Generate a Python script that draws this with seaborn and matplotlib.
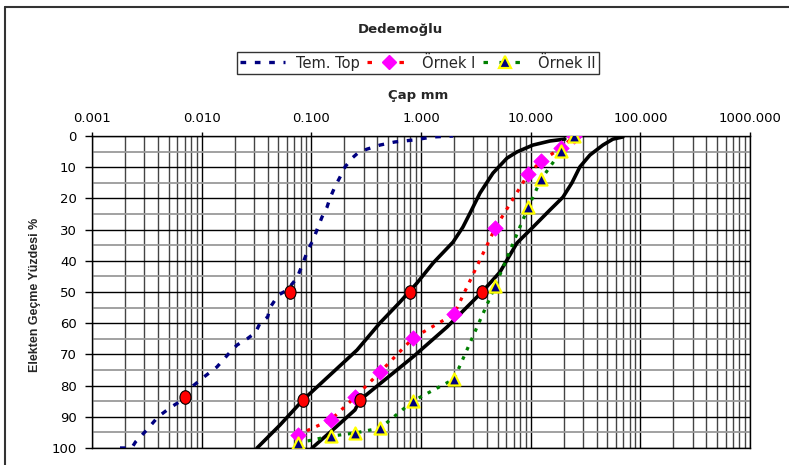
import numpy as np
import pandas as pd
import matplotlib
matplotlib.use("Agg")
import matplotlib.pyplot as plt
import seaborn as sns
from matplotlib.lines import Line2D
from matplotlib.path import Path
from matplotlib.transforms import Affine2D
from matplotlib.ticker import FixedLocator, FixedFormatter

# ---------------- data ----------------
tem_d = [0.0018, 0.0023, 0.0025, 0.0032, 0.0040, 0.0052, 0.0071, 0.0084, 0.0107,
         0.0138, 0.0174, 0.021, 0.026, 0.031, 0.034, 0.040, 0.042, 0.050, 0.060,
         0.074, 0.084, 0.093, 0.104, 0.115, 0.125, 0.139, 0.148, 0.164, 0.183,
         0.203, 0.235, 0.267, 0.322, 0.423, 0.579, 0.845, 1.29, 1.96]
tem_p = [100, 100, 98, 94, 90, 87, 84, 80, 77, 74, 70, 67, 65, 63, 60, 58, 55,
         51, 49.4, 45.5, 40.7, 36.5, 33.3, 29.2, 26, 22.8, 19.9, 16.3, 13.1,
         9.9, 7.1, 5.4, 4.2, 2.9, 1.9, 1.3, 0.3, 0]

sieve_d = [0.075, 0.15, 0.25, 0.425, 0.85, 2.0, 4.75, 9.5, 12.5, 19.0, 25.0]
ornek1_p = [95.8, 91.0, 83.7, 75.6, 64.7, 57.1, 29.5, 12.2, 8.0, 3.8, 0]
ornek2_p = [98.4, 96.2, 95.2, 93.6, 84.9, 77.9, 48.1, 22.8, 13.8, 4.8, 0]

envA_d = [0.0320, 0.0519, 0.0840, 0.148, 0.261, 0.423, 0.644, 0.920, 1.29, 1.96,
          2.41, 2.80, 3.45, 4.53, 6.08, 7.50, 10.5, 15.0, 20.5]
envA_p = [100, 92.6, 84.6, 76.6, 68.6, 59.9, 53.2, 47.1, 40.7, 34.0,
          29.2, 24.7, 18.3, 11.9, 7.1, 5.1, 2.9, 1.6, 1.0]

envB_d = [0.1015, 0.164, 0.250, 0.278, 0.845, 1.73, 3.60, 5.25, 7.50, 10.5,
          15.0, 19.7, 23.8, 28.1, 34.7, 45.6, 56.2, 69.4]
envB_p = [100, 93.6, 87.8, 84.6, 70.8, 61.2, 50, 43.6, 34.3, 29.2,
          23.7, 19.6, 15, 9.9, 6.1, 2.9, 1.0, 0.3]

circ_d = [0.0071, 0.064, 0.084, 0.278, 0.794, 3.60]
circ_p = [83.7, 50, 84.6, 84.6, 50, 50]

x_ticks = [0.001, 0.01, 0.1, 1, 10, 100, 1000]
x_tick_labels = ["0.001", "0.010", "0.100", "1.000", "10.000", "100.000", "1000.000"]
y_ticks = list(range(0, 101, 10))

title = "Dedemoğlu"
xlabel = "Çap mm"
ylabel = "Elekten Geçme Yüzdesi %"
names = ["Tem. Top", "Örnek I", "Örnek II"]

# ---------------- style ----------------
sns.set_style("white")
plt.rcParams['font.family'] = ['DejaVu Sans']

W, H = 789, 465
fig = plt.figure(figsize=(W / 100, H / 100), dpi=100)
ax = fig.add_axes([92 / W, 1 - 448 / H, (750 - 92) / W, (448 - 136) / H])

ax.set_xscale('log')
ax.set_xlim(0.001, 1000)
ax.set_ylim(100, 0)

# grid
minor_x = [m * 10.0 ** e for e in range(-3, 3) for m in range(2, 10)]
ax.xaxis.set_major_locator(FixedLocator(x_ticks))
ax.xaxis.set_major_formatter(FixedFormatter(x_tick_labels))
ax.xaxis.set_minor_locator(FixedLocator(minor_x))
ax.xaxis.set_minor_formatter(FixedFormatter([""] * len(minor_x)))
ax.yaxis.set_major_locator(FixedLocator(y_ticks))
ax.yaxis.set_minor_locator(FixedLocator(list(range(5, 100, 10))))
ax.grid(True, which='major', axis='both', color='black', lw=1.0, zorder=0)
ax.grid(True, which='minor', axis='x', color='#444444', lw=1.0, zorder=0)
ax.grid(True, which='minor', axis='y', color='#9a9a9a', lw=1.3, zorder=0)
ax.set_axisbelow(True)

ax.xaxis.tick_top()
ax.tick_params(axis='x', which='major', direction='out', length=3, width=1,
               pad=5, labelsize=9.5, colors='black')
ax.tick_params(axis='x', which='minor', length=0)
ax.tick_params(axis='y', which='major', direction='out', length=5, width=1,
               pad=6, labelsize=9.5, colors='black', left=True)
ax.tick_params(axis='y', which='minor', length=0)
for s in ax.spines.values():
    s.set_color('black')
    s.set_linewidth(1.0)

# envelope curves
for d, p in [(envA_d, envA_p), (envB_d, envB_p)]:
    sns.lineplot(x=d, y=p, ax=ax, color='black', lw=2.6, estimator=None,
                 sort=False, zorder=3)

# Tem. Top
sns.lineplot(x=tem_d, y=tem_p, ax=ax, color='#000080', lw=2.4, estimator=None,
             sort=False, zorder=4)
ax.lines[-1].set_dashes((1.7, 2.6))

# Örnek I
sns.lineplot(x=sieve_d, y=ornek1_p, ax=ax, color='#ff0000', lw=2.3, estimator=None,
             sort=False, zorder=4)
ax.lines[-1].set_dashes((1.1, 2.1))
sns.scatterplot(x=sieve_d, y=ornek1_p, ax=ax, marker='D', s=62, color='#ff00ff',
                edgecolor='#ff00ff', linewidth=0.5, zorder=5)

# Örnek II
sns.lineplot(x=sieve_d, y=ornek2_p, ax=ax, color='#008000', lw=2.3, estimator=None,
             sort=False, zorder=4)
ax.lines[-1].set_dashes((1.1, 2.1))
sns.scatterplot(x=sieve_d, y=ornek2_p, ax=ax, marker='^', s=75, color='#000080',
                edgecolor='#ffff00', linewidth=1.6, zorder=6)

# red circles (slightly tall ellipses)
ellipse = Path.unit_circle().transformed(Affine2D().scale(0.82, 1.0))
sns.scatterplot(x=circ_d, y=circ_p, ax=ax, marker=ellipse, s=95, color='#ff0000',
                edgecolor='black', linewidth=0.8, zorder=7)

ax.set_xlabel("")
ax.set_ylabel(ylabel, fontsize=9, fontweight='bold', family='Liberation Sans')
ax.yaxis.set_label_coords((41 - 92) / (750 - 92), 0.49)

# texts
fig.text(400 / W, 1 - 29 / H, title, ha='center', va='center', fontsize=9.5,
         fontweight='bold')
fig.text(418 / W, 1 - 96 / H, xlabel, ha='center', va='center', fontsize=9.5,
         fontweight='bold')

# legend
h1 = Line2D([], [], color='#000080', lw=2.4, dashes=(1.7, 2.6))
h2 = Line2D([], [], color='#ff0000', lw=2.3, dashes=(1.4, 3.6), marker='D',
            markersize=7, markerfacecolor='#ff00ff', markeredgecolor='#ff00ff')
h3 = Line2D([], [], color='#008000', lw=2.3, dashes=(1.4, 3.6), marker='^',
            markersize=8, markerfacecolor='#000080', markeredgecolor='#ffff00',
            markeredgewidth=1.6)
leg = fig.legend([h1, h2, h3], names, loc='center',
                 bbox_to_anchor=(418 / W, 1 - 63 / H), ncol=3, fontsize=10.5,
                 frameon=True, fancybox=False, handlelength=3.1,
                 handletextpad=0.7, columnspacing=0.5, borderpad=0.25,
                 borderaxespad=0)
leg.get_frame().set_edgecolor('black')
leg.get_frame().set_linewidth(1.0)

# outer chart-area frame (only left and top edges are visible)
fig.add_artist(Line2D([5 / W, 5 / W], [0, 1 - 7 / H], color='#333333', lw=1.5,
                      transform=fig.transFigure))
fig.add_artist(Line2D([5 / W, 1], [1 - 7 / H, 1 - 7 / H], color='#333333', lw=1.5,
                      transform=fig.transFigure))

fig.savefig("out.png", dpi=100)
